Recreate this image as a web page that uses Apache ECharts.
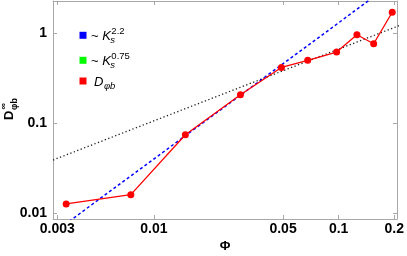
<!DOCTYPE html>
<html>
<head>
<meta charset="utf-8">
<script src="https://cdn.jsdelivr.net/npm/echarts@6/dist/echarts.min.js"></script>
<style>html,body{margin:0;padding:0;background:#fff}#c{width:407px;height:256px}</style>
</head>
<body>
<div id="c"></div>
<script>
// ---- data (actual values; log10 applied when building the options) ----
var phiValues = [0.00335, 0.0075, 0.0148, 0.0294, 0.049, 0.068, 0.0975, 0.1256, 0.1547, 0.195];
var dValues   = [0.0126, 0.016, 0.0741, 0.206, 0.414, 0.497, 0.615, 0.957, 0.760, 1.70];
// guide lines (end points)
var steepX = [0.0025, 0.25];
var steepY = [0.0049, 5.2];
var shallowX = [0.0025, 0.25];
var shallowY = [0.035, 1.374];
// axis ticks
var xTicks = [0.003, 0.01, 0.05, 0.1, 0.2];
var xTickLabels = ['0.003', '0.01', '0.05', '0.1', '0.2'];
var yTicks = [0.01, 0.1, 1];
var yTickLabels = ['0.01', '0.1', '1'];
var xRange = [0.002843, 0.2069];
var yRange = [0.00858, 2.268];
// legend
var legendMain = ['~ ', '~ ', ''];
var legendSym = ['K', 'K', 'D'];
var legendSup = ['2.2', '0.75', ''];
var legendSub = ['s', 's', 'φb'];
var legendColors = ['#0000ff', '#00ff00', '#ff0000'];

var L = Math.log10;
function pairs(xs, ys) { return xs.map(function (x, i) { return [L(x), L(ys[i])]; }); }
function labelFor(ticks, labels) {
  return function (v) {
    for (var i = 0; i < ticks.length; i++) if (Math.abs(L(ticks[i]) - v) < 1e-6) return labels[i];
    return '';
  };
}

var frame = '#a8a8a8';
var font = '"Liberation Sans", Arial, sans-serif';
function xAx(pos, show) {
  return {
    type: 'value', position: pos, min: L(xRange[0]), max: L(xRange[1]),
    axisLine: { show: true, onZero: false, lineStyle: { color: frame, width: 1 } },
    splitLine: { show: false },
    axisTick: { show: true, inside: true, length: 4, customValues: xTicks.map(L), lineStyle: { color: frame } },
    axisLabel: { show: show, customValues: xTicks.map(L), formatter: labelFor(xTicks, xTickLabels),
      margin: 3, fontFamily: font, fontWeight: 'bold', fontSize: 14, color: '#000' }
  };
}
function yAx(pos, show) {
  return {
    type: 'value', position: pos, min: L(yRange[0]), max: L(yRange[1]),
    axisLine: { show: true, onZero: false, lineStyle: { color: frame, width: 1 } },
    splitLine: { show: false },
    axisTick: { show: true, inside: true, length: 4, customValues: yTicks.map(L), lineStyle: { color: frame } },
    axisLabel: { show: show, customValues: yTicks.map(L), formatter: labelFor(yTicks, yTickLabels),
      margin: 6, fontFamily: font, fontWeight: 'bold', fontSize: 14, color: '#000' }
  };
}

// measure text widths for stacked sub/superscripts
var ctx = document.createElement('canvas').getContext('2d');
function tw(str, f) { ctx.font = f; return ctx.measureText(str).width; }

var graphics = [];
for (var i = 0; i < legendColors.length; i++) {
  var cy = [35.3, 60.3, 81][i];
  graphics.push({ type: 'rect', shape: { x: 79.5, y: cy - 3.5, width: 7, height: 7 }, style: { fill: legendColors[i] } });
  var x0 = i < 2 ? 91 : 94;
  var mainW = tw(legendMain[i], '13px ' + font);
  var symW = tw(legendSym[i], 'italic 13px ' + font);
  graphics.push({ type: 'text', x: x0, y: cy + 1, style: {
    text: legendMain[i] + '{i|' + legendSym[i] + '}', font: '13px ' + font, fill: '#000', verticalAlign: 'middle',
    rich: { i: { fontStyle: 'italic', fontSize: 13, fontFamily: font } } } });
  var xs = x0 + mainW + symW + 0.5;
  if (legendSup[i]) graphics.push({ type: 'text', x: xs, y: cy - 4, style: { text: legendSup[i], font: '9.5px ' + font, fill: '#000', verticalAlign: 'middle' } });
  graphics.push({ type: 'text', x: xs - (i < 2 ? 1 : 0), y: cy + 5, style: { text: legendSub[i], font: 'italic 9.5px ' + font, fill: '#000', verticalAlign: 'middle' } });
}
// y axis name (rotated)
graphics.push({ type: 'group', x: 9.5, y: 120, rotation: Math.PI / 2, children: [
  { type: 'text', x: 0, y: 0, style: { text: 'D', font: 'bold 13px ' + font, fill: '#000', verticalAlign: 'middle' } },
  { type: 'text', x: 10.5, y: -6, style: { text: '∞', font: 'bold 9px ' + font, fill: '#000', verticalAlign: 'middle' } },
  { type: 'text', x: 10, y: 5, style: { text: 'φb', font: 'bold 9px ' + font, fill: '#000', verticalAlign: 'middle' } }
] });
// x axis name
graphics.push({ type: 'text', x: 225, y: 246, style: { text: 'Φ', font: 'bold 13px ' + font, fill: '#000', align: 'center', verticalAlign: 'middle' } });

var chart = echarts.init(document.getElementById('c'), null, { renderer: 'canvas' });
chart.setOption({
  animation: false,
  backgroundColor: '#fff',
  grid: { left: 53, right: 4, top: 1, bottom: 37, containLabel: false },
  xAxis: [xAx('bottom', true), xAx('top', false)],
  yAxis: [yAx('left', true), yAx('right', false)],
  series: [
    { name: 'shallow', type: 'line', data: pairs(shallowX, shallowY), symbol: 'none', clip: true,
      lineStyle: { color: '#222', width: 1.3, type: [1.3, 2.4] } },
    { name: 'steep', type: 'line', data: pairs(steepX, steepY), symbol: 'none', clip: true,
      lineStyle: { color: '#0000ff', width: 1.5, type: [3, 2.5] } },
    { name: 'D', type: 'line', data: pairs(phiValues, dValues), symbol: 'circle', symbolSize: 7, clip: true,
      itemStyle: { color: '#ff0000' }, lineStyle: { color: '#ff0000', width: 1.3 } }
  ],
  graphic: graphics
});
</script>
</body>
</html>
